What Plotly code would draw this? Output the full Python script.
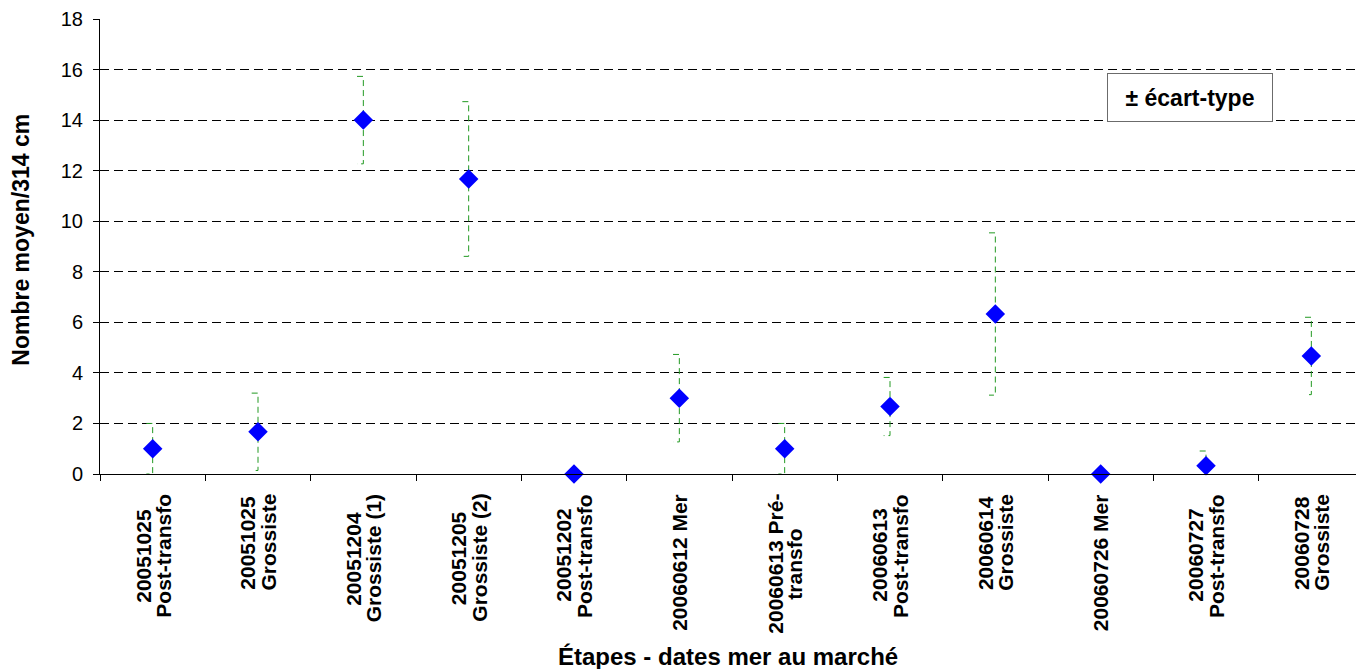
import plotly.graph_objects as go

# Sampling stages (date at sea -> market step)
stages = [
    "20051025<br>Post-transfo",
    "20051025<br>Grossiste",
    "20051204<br>Grossiste (1)",
    "20051205<br>Grossiste (2)",
    "20051202<br>Post-transfo",
    "20060612 Mer",
    "20060613 Pré-<br>transfo",
    "20060613<br>Post-transfo",
    "20060614<br>Grossiste",
    "20060726 Mer",
    "20060727<br>Post-transfo",
    "20060728<br>Grossiste",
]

# Mean count per 314 cm and its standard deviation
mean_count = [1.0, 1.67, 14.0, 11.67, 0.0, 3.0, 1.0, 2.67, 6.33, 0.0, 0.33, 4.67]
std_dev = [1.0, 1.53, 1.73, 3.06, 0.0, 1.73, 1.0, 1.15, 3.21, 0.0, 0.58, 1.53]

y_ticks = list(range(0, 19, 2))

FONT = "Liberation Sans, Arial, sans-serif"
LABEL_SIZE = 21
LINE_STEP = 20      # px between the lines of a category label
LABEL_GAP = 18      # px between the x axis and the label block

# Approximate advance widths (em) of the bold sans used for labels
BOLD_W = {
    " ": 0.278, "-": 0.333, "(": 0.333, ")": 0.333, "P": 0.667, "G": 0.778,
    "M": 0.833, "o": 0.611, "s": 0.556, "t": 0.333, "r": 0.389, "a": 0.556,
    "n": 0.611, "f": 0.333, "i": 0.278, "e": 0.556, "é": 0.556,
}


def text_width(s, size):
    return sum(BOLD_W.get(ch, 0.556) for ch in s) * size


x_pos = list(range(len(stages)))

# Dashed error bars with a small cap drawn to the left of each bar
cap = 0.06
ex, ey = [], []
for x, m, s in zip(x_pos, mean_count, std_dev):
    if s <= 0:
        continue
    lo, hi = m - s, m + s
    ex += [x - cap, x, x, x - cap, None]
    ey += [hi, hi, lo, lo, None]

fig = go.Figure()
fig.add_trace(go.Scatter(
    x=ex, y=ey, mode="lines",
    line=dict(color="#229922", width=1, dash="6px,4px"),
    hoverinfo="skip", showlegend=False, cliponaxis=False,
))
fig.add_trace(go.Scatter(
    x=x_pos, y=mean_count, mode="markers",
    marker=dict(symbol="diamond", size=15, color="#0000ff", line=dict(width=0)),
    showlegend=False, cliponaxis=False,
    customdata=std_dev,
    hovertemplate="%{y} ± %{customdata}<extra></extra>",
))

# Category labels: rotated, each line centred on the longest one
annotations = []
for x, label in zip(x_pos, stages):
    lines = label.split("<br>")
    widths = [text_width(l, LABEL_SIZE) for l in lines]
    longest = max(widths)
    n = len(lines)
    for k, (line, w) in enumerate(zip(lines, widths)):
        annotations.append(dict(
            x=x, y=0, xref="x", yref="paper", text=line,
            textangle=-90, xanchor="center", yanchor="top",
            xshift=(k - (n - 1) / 2) * LINE_STEP,
            yshift=-(LABEL_GAP + (longest - w) / 2),
            showarrow=False,
            font=dict(family=FONT, size=LABEL_SIZE, color="black", weight="bold"),
        ))

annotations += [
    dict(
        text="Nombre moyen/314 cm", textangle=-90, showarrow=False,
        x=-0.0629, y=0.515, xref="paper", yref="paper",
        xanchor="center", yanchor="middle",
        font=dict(family=FONT, size=23, color="black", weight="bold"),
    ),
    dict(
        text="Étapes - dates mer au marché", showarrow=False,
        x=0.5, y=-0.402, xref="paper", yref="paper",
        xanchor="center", yanchor="middle",
        font=dict(family=FONT, size=24, color="black", weight="bold"),
    ),
    dict(
        text="± écart-type", showarrow=False,
        x=0.8678, y=0.8275, xref="paper", yref="paper",
        xanchor="center", yanchor="middle",
        width=162, height=45,
        bordercolor="#6b6b6b", borderwidth=1, bgcolor="white",
        font=dict(family=FONT, size=23, color="black", weight="bold"),
    ),
]

fig.update_layout(
    width=1356, height=669,
    margin=dict(l=100, r=0, t=19, b=195),
    paper_bgcolor="white", plot_bgcolor="white",
    showlegend=False,
    annotations=annotations,
    xaxis=dict(
        range=[-0.5, 11.424],
        tickmode="array", tickvals=[x - 0.5 for x in x_pos] + [len(stages) - 0.5],
        showticklabels=False,
        ticks="outside", ticklen=6, tickcolor="black", tickwidth=1,
        showgrid=False, zeroline=False,
        showline=True, linecolor="black", linewidth=1,
    ),
    yaxis=dict(
        range=[0, 18],
        tickmode="array", tickvals=y_ticks,
        ticks="outside", ticklen=6, tickcolor="black", tickwidth=1,
        ticklabelstandoff=6,
        tickfont=dict(family=FONT, size=20, color="black"),
        showgrid=True, gridcolor="black", gridwidth=1, griddash="9px,5px",
        zeroline=False,
        showline=True, linecolor="black", linewidth=1,
    ),
)

fig.write_html("out.html")
